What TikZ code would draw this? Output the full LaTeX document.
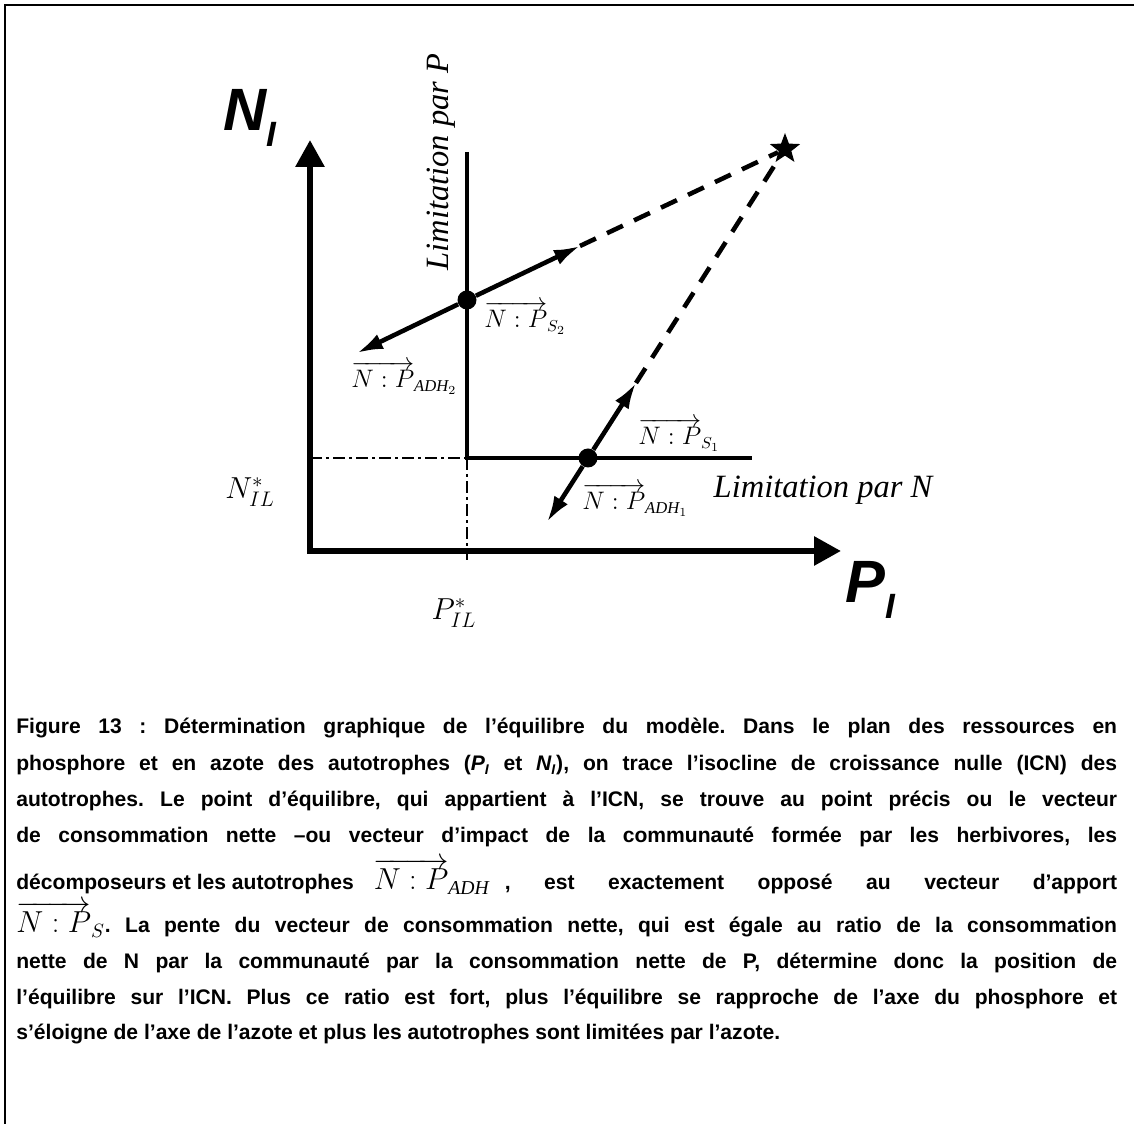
\documentclass[tikz,border=0pt]{standalone}
\usepackage{fontspec}
\setmainfont{Liberation Serif}
\newfontfamily\capfont{Liberation Sans}
\usepackage{amsmath}
\usetikzlibrary{shapes.geometric, arrows.meta}
\frenchspacing

\begin{document}
\begin{tikzpicture}[
    x=0.02cm, y=-0.02cm,
    frame/.style={line width=1.1pt},
    axis/.style={
        line width=3.4pt, line join=miter,
        {Triangle[length=0.54cm,width=0.56cm]}-{Triangle[length=0.54cm,width=0.56cm]}
    },
    isocline/.style={line width=2.7pt, line join=miter},
    guide/.style={line width=0.8pt, dash pattern=on 6.8pt off 2.3pt on 1.7pt off 2.3pt},
    vect/.style={line width=2.6pt, -{Latex[length=0.52cm,width=0.32cm]}},
    proj/.style={line width=2.6pt, dash pattern=on 10pt off 7pt},
    eqpt/.style={circle, fill, inner sep=0pt, minimum size=0.38cm},
    lbl/.style={inner sep=0pt, font=\itshape\fontsize{18.5}{20}\selectfont},
    vlbl/.style={inner sep=0pt, anchor=base west, font=\fontsize{13.5}{15}\selectfont},
    axlbl/.style={inner sep=0pt, font=\capfont\bfseries\itshape\fontsize{34}{36}\selectfont},
    capline/.style={inner sep=0pt, anchor=base west, font=\capfont\bfseries\fontsize{12}{14}\selectfont}
]
\useasboundingbox (0,0) rectangle (1134,1124);

% Frame
\draw[frame] (5,1124) -- (5,5) -- (1134,5);

% Coordinates
\coordinate (orig) at (310,551);
\coordinate (ytip) at (310,140);
\coordinate (xtip) at (841,551);
\coordinate (ictop) at (467,152);
\coordinate (corner) at (467,458);
\coordinate (icright) at (752,458);
\coordinate (nstar) at (310,458);
\coordinate (pstar) at (467,560);
\coordinate (s2tip) at (580,246);
\coordinate (adh2tip) at (357,353);
\coordinate (s1tip) at (636,383);
\coordinate (adh1tip) at (547,522);

% Axes and isocline
\draw[axis] (ytip) -- (orig) -- (xtip);
\draw[isocline] (ictop) -- (corner) -- (icright);
\draw[guide] (nstar) -- (corner);
\draw[guide] (corner) -- (pstar);

% Nodes
\node[eqpt] (eq2) at (467,300) {};
\node[eqpt] (eq1) at (588,458) {};
\node[star, star points=5, star point ratio=2.4, fill, inner sep=0pt, minimum size=0.64cm] (goal) at (785,149) {};

% Arrows
\draw[vect] (eq2) -- (s2tip);
\draw[vect] (eq2) -- (adh2tip);
\draw[vect] (eq1) -- (s1tip);
\draw[vect] (eq1) -- (adh1tip);
\draw[proj] (s2tip) -- (goal);
\draw[proj] (s1tip) -- (goal);

% Labels
\node[axlbl] (ni) at (250,118) {N\raisebox{-0.26em}{\fontsize{20}{22}\selectfont I}};
\node[axlbl] (pi) at (870,590) {P\raisebox{-0.26em}{\fontsize{20}{22}\selectfont I}};
\node[lbl, rotate=90] (limp) at (441,162) {Limitation par P};
\node[lbl] (limn) at (823,490) {Limitation par N};
\node[lbl] (nil) at (250,492) {$N^{*}_{IL}$};
\node[lbl] (pil) at (454,613) {$P^{*}_{IL}$};
\node[vlbl] (ls2) at (484,328) {$\overrightarrow{N:P}_{S_2}$};
\node[vlbl] (ladh2) at (351,388) {$\overrightarrow{N:P}_{\mathit{ADH}_2}$};
\node[vlbl] (ls1) at (638,445) {$\overrightarrow{N:P}_{S_1}$};
\node[vlbl] (ladh1) at (582,510) {$\overrightarrow{N:P}_{\mathit{ADH}_1}$};

% Caption
\node[capline] (c1) at (16,734) {\makebox[22.02cm][s]{Figure 13 : Détermination graphique de l’équilibre du modèle. Dans le plan des ressources en}};
\node[capline] (c2) at (16,771) {\makebox[22.02cm][s]{phosphore et en azote des autotrophes (\textit{P\textsubscript{I}} et \textit{N\textsubscript{I}}), on trace l’isocline de croissance nulle (ICN) des}};
\node[capline] (c3) at (16,807) {\makebox[22.02cm][s]{autotrophes. Le point d’équilibre, qui appartient à l’ICN, se trouve au point précis ou le vecteur}};
\node[capline] (c4) at (16,843) {\makebox[22.02cm][s]{de consommation nette –ou vecteur d’impact de la communauté formée par les herbivores, les}};
\node[capline] (c5) at (16,890) {\makebox[22.02cm][s]{\mbox{décomposeurs et les autotrophes}\hspace{0.4cm}{\fontsize{16}{18}\selectfont$\overrightarrow{N:P}_{\mathit{ADH}}$}\hspace{0.3cm}, est exactement opposé au vecteur d’apport}};
\node[capline] (c6) at (16,933) {\makebox[22.02cm][s]{{\fontsize{16}{18}\selectfont$\overrightarrow{N:P}_{S}$}. La pente du vecteur de consommation nette, qui est égale au ratio de la consommation}};
\node[capline] (c7) at (16,969) {\makebox[22.02cm][s]{nette de N par la communauté par la consommation nette de P, détermine donc la position de}};
\node[capline] (c8) at (16,1005) {\makebox[22.02cm][s]{l’équilibre sur l’ICN. Plus ce ratio est fort, plus l’équilibre se rapproche de l’axe du phosphore et}};
\node[capline] (c9) at (16,1040) {s’éloigne de l’axe de l’azote et plus les autotrophes sont limitées par l’azote.};

\end{tikzpicture}
\end{document}
